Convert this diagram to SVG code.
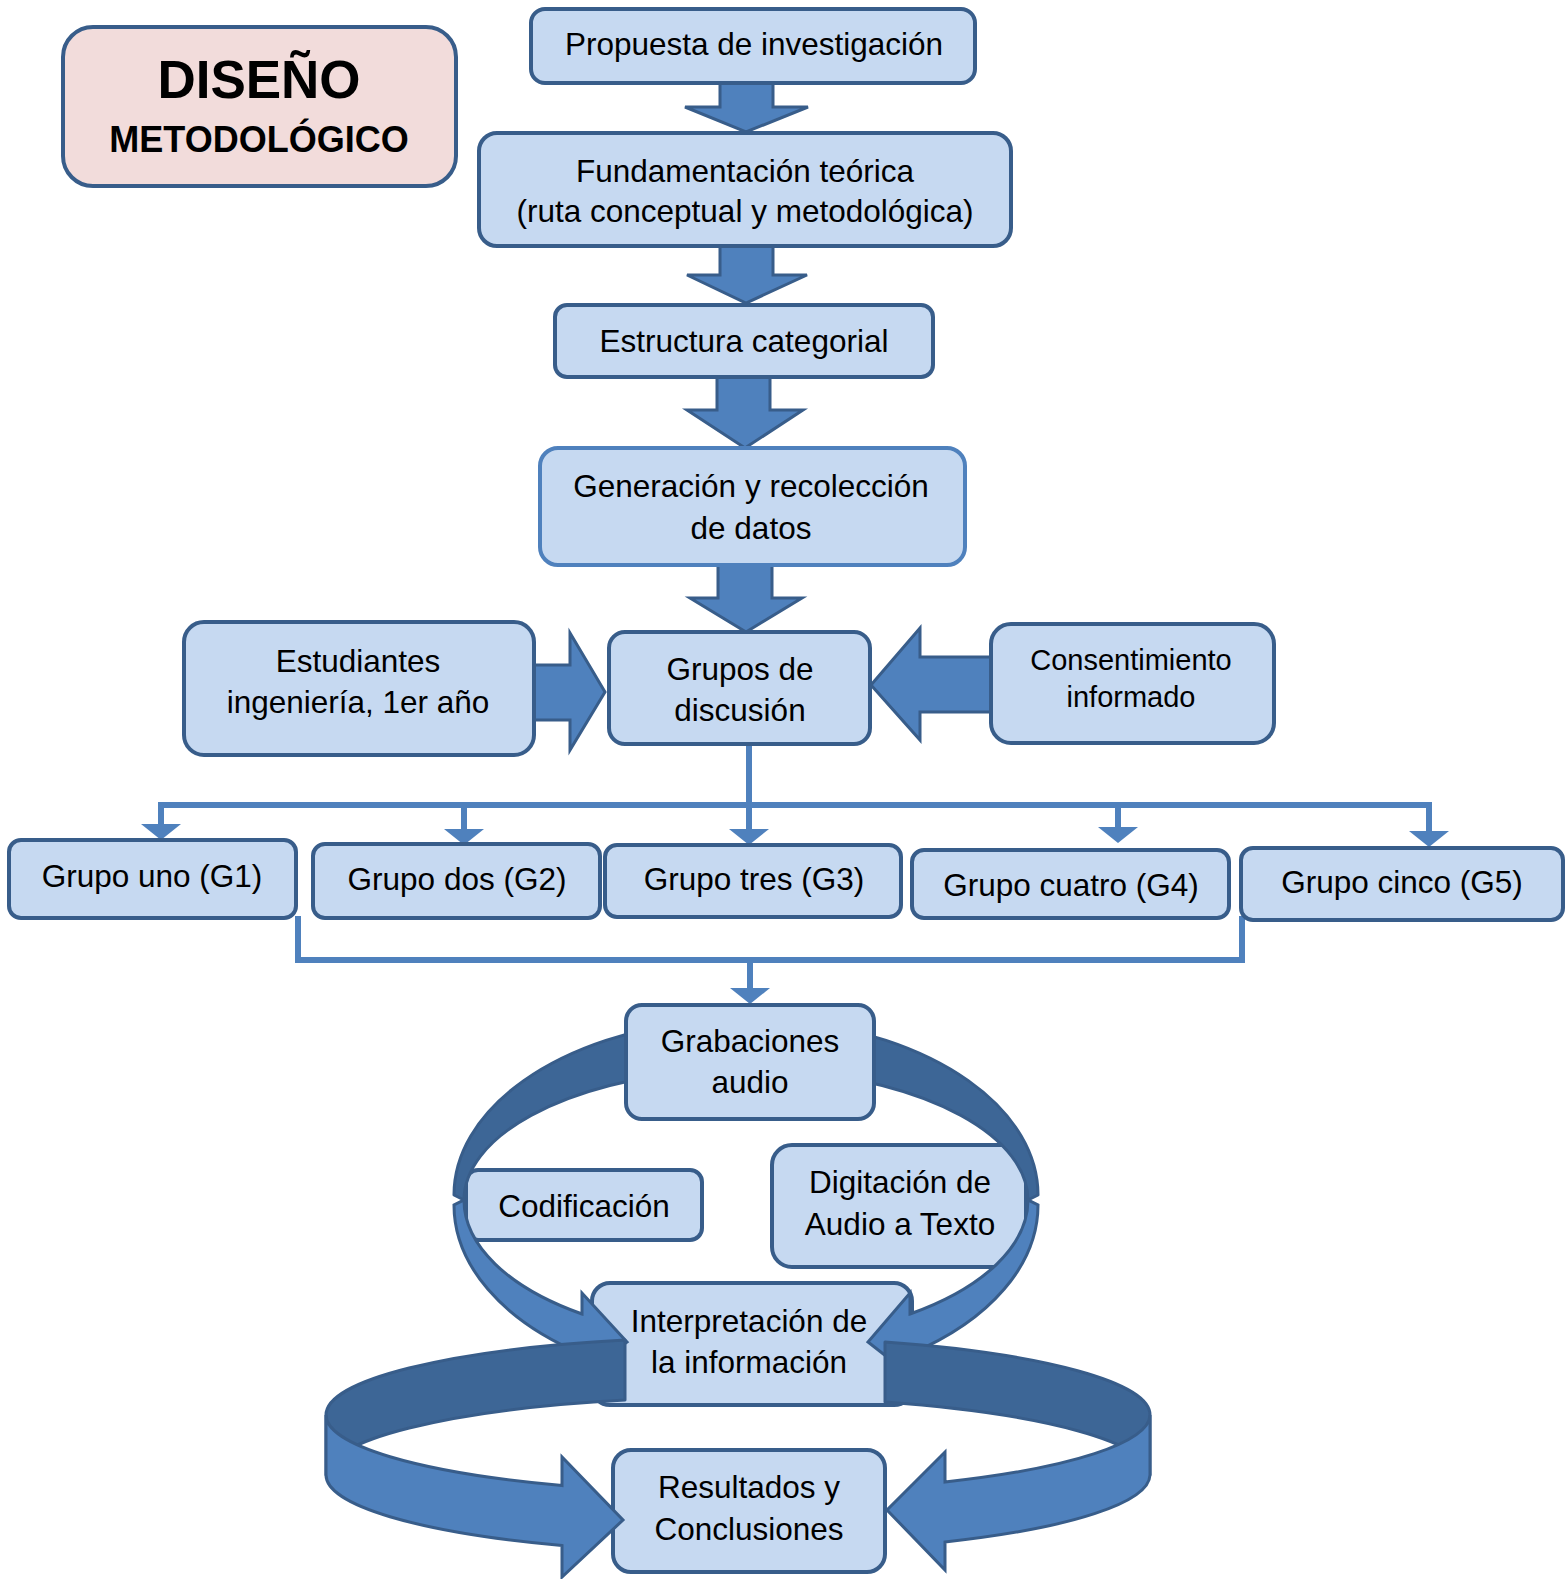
<svg xmlns="http://www.w3.org/2000/svg" width="1567" height="1579" viewBox="0 0 1567 1579">
<style>
.box{fill:#C6D9F1;stroke:#385D8A;stroke-width:4}
.boxl{fill:#C6D9F1;stroke:#4F81BD;stroke-width:4}
.title{fill:#F2DCDB;stroke:#385D8A;stroke-width:4}
.t{font-family:"Liberation Sans",Arial,sans-serif;font-size:31.5px;fill:#000;text-anchor:middle}
.ts{font-family:"Liberation Sans",Arial,sans-serif;font-size:29px;fill:#000;text-anchor:middle}
.tb{font-family:"Liberation Sans",Arial,sans-serif;font-weight:bold;fill:#000;text-anchor:middle}
.blk{fill:#4F81BD;stroke:#385D8A;stroke-width:3;stroke-linejoin:miter}
.dark{fill:#3D6696;stroke:#385D8A;stroke-width:3;stroke-linejoin:round}
.lite{fill:#4F81BD;stroke:#385D8A;stroke-width:3;stroke-linejoin:miter}
.ln{fill:none;stroke:#4F81BD;stroke-width:6}
</style>
<defs>
<marker id="ah" viewBox="0 0 16 40" markerWidth="16" markerHeight="40" refX="0" refY="20" orient="auto" markerUnits="userSpaceOnUse">
<path d="M0,0 L16,20 L0,40 Z" fill="#4F81BD"/>
</marker>
</defs>
<rect width="1567" height="1579" fill="#fff"/>

<g id="connectors">
<polygon class="blk" points="720,80 773,80 773,107 808,107 746,132 685,107 720,107"/>
<polygon class="blk" points="720,244 773,244 773,275 807,275 746,303 687,275 720,275"/>
<polygon class="blk" points="717,375 770,375 770,410 803,410 745,448 687,410 717,410"/>
<polygon class="blk" points="718,562 772,562 772,598 802,598 746,632 690,598 718,598"/>
<polygon class="blk" points="532,665 570,665 570,633 605,692 570,750 570,720 532,720"/>
<polygon class="blk" points="993,657 920,657 920,628 871,685 920,740 920,712 993,712"/>
<path class="ln" d="M749 744 L749 829" marker-end="url(#ah)"/>
<path class="ln" d="M158 805 L1432 805"/>
<path class="ln" d="M161 802 L161 824" marker-end="url(#ah)"/>
<path class="ln" d="M464 805 L464 829" marker-end="url(#ah)"/>
<path class="ln" d="M1118 805 L1118 827" marker-end="url(#ah)"/>
<path class="ln" d="M1429 802 L1429 831" marker-end="url(#ah)"/>
<path class="ln" d="M298 916 L298 960 L1242 960 L1242 916"/>
<path class="ln" d="M750 960 L750 988" marker-end="url(#ah)"/>
</g>

<g id="title">
<rect class="title" x="63" y="27" width="393" height="159" rx="30"/>
<text class="tb" x="259" y="98" font-size="53">DISEÑO</text>
<text class="tb" x="259" y="152" font-size="36">METODOLÓGICO</text>
</g>

<g id="propuesta">
<rect class="box" x="531" y="9" width="444" height="74" rx="14"/>
<text class="t" x="754" y="55">Propuesta de investigación</text>
</g>

<g id="fundamentacion">
<rect class="box" x="479" y="133" width="532" height="113" rx="18"/>
<text class="t" x="745" y="182">Fundamentación teórica</text>
<text class="t" x="745" y="222">(ruta conceptual y metodológica)</text>
</g>

<g id="estructura">
<rect class="box" x="555" y="305" width="378" height="72" rx="12"/>
<text class="t" x="744" y="352">Estructura categorial</text>
</g>

<g id="generacion">
<rect class="boxl" x="540" y="448" width="425" height="117" rx="18"/>
<text class="t" x="751" y="497">Generación y recolección</text>
<text class="t" x="751" y="539">de datos</text>
</g>

<g id="estudiantes">
<rect class="box" x="184" y="622" width="350" height="133" rx="20"/>
<text class="t" x="358" y="672">Estudiantes</text>
<text class="t" x="358" y="713">ingeniería, 1er año</text>
</g>

<g id="grupos-discusion">
<rect class="box" x="609" y="632" width="261" height="112" rx="16"/>
<text class="t" x="740" y="680">Grupos de</text>
<text class="t" x="740" y="721">discusión</text>
</g>

<g id="consentimiento">
<rect class="box" x="991" y="624" width="283" height="119" rx="20"/>
<text class="ts" x="1131" y="670">Consentimiento</text>
<text class="ts" x="1131" y="707">informado</text>
</g>

<g id="g1">
<rect class="box" x="9" y="840" width="287" height="78" rx="12"/>
<text class="t" x="152" y="887">Grupo uno (G1)</text>
</g>
<g id="g2">
<rect class="box" x="313" y="844" width="287" height="74" rx="12"/>
<text class="t" x="457" y="890">Grupo dos (G2)</text>
</g>
<g id="g3">
<rect class="box" x="605" y="845" width="296" height="72" rx="12"/>
<text class="t" x="754" y="890">Grupo tres (G3)</text>
</g>
<g id="g4">
<rect class="box" x="912" y="850" width="317" height="68" rx="12"/>
<text class="t" x="1071" y="896">Grupo cuatro (G4)</text>
</g>
<g id="g5">
<rect class="box" x="1241" y="848" width="322" height="72" rx="12"/>
<text class="t" x="1402" y="893">Grupo cinco (G5)</text>
</g>

<g id="codificacion">
<rect class="box" x="466" y="1170" width="236" height="70" rx="12"/>
<text class="t" x="584" y="1217">Codificación</text>
</g>

<g id="digitacion">
<rect class="box" x="772" y="1145" width="254" height="122" rx="20"/>
<text class="t" x="900" y="1193">Digitación de</text>
<text class="t" x="900" y="1235">Audio a Texto</text>
</g>

<g id="interpretacion">
<rect class="box" x="592" y="1283" width="320" height="122" rx="18"/>
<text class="t" x="749" y="1332">Interpretación de</text>
<text class="t" x="749" y="1373">la información</text>
</g>

<g id="cycle-upper">
<path class="dark" d="M700 1021 A292 176 0 0 0 454 1195 L464 1200 A282 131 0 0 1 700 1071 Z"/>
<path class="dark" d="M792 1021 A292 176 0 0 1 1038 1195 L1028 1200 A282 131 0 0 0 792 1071 Z"/>
<path class="lite" d="M464 1200 A282 140 0 0 0 582 1314 L582 1293 L627 1342 L582 1375 L582 1354 A292 180 0 0 1 454 1205 Z"/>
<path class="lite" d="M1028 1200 A282 140 0 0 1 910 1314 L910 1293 L868 1342 L910 1375 L910 1354 A292 180 0 0 0 1038 1205 Z"/>
</g>

<g id="grabaciones">
<rect class="box" x="626" y="1005" width="248" height="114" rx="16"/>
<text class="t" x="750" y="1052">Grabaciones</text>
<text class="t" x="750" y="1093">audio</text>
</g>

<g id="resultados">
<rect class="box" x="613" y="1450" width="272" height="122" rx="18"/>
<text class="t" x="749" y="1498">Resultados y</text>
<text class="t" x="749" y="1540">Conclusiones</text>
</g>

<g id="cycle-lower">
<path class="dark" d="M625 1340 A412 78 0 0 0 326 1415 L326 1475 A412 78 0 0 1 625 1400 Z"/>
<path class="dark" d="M885 1342 A412 78 0 0 1 1150 1415 L1150 1475 A412 78 0 0 0 885 1402 Z"/>
<path class="lite" d="M326 1415 A412 78 0 0 0 562 1485.5 L562 1457 L623 1520 L562 1577 L562 1545.5 A412 78 0 0 1 326 1475 Z"/>
<path class="lite" d="M1150 1415 A412 78 0 0 1 945 1482 L945 1452 L887 1510 L945 1570 L945 1542 A412 78 0 0 0 1150 1475 Z"/>
</g>
</svg>
